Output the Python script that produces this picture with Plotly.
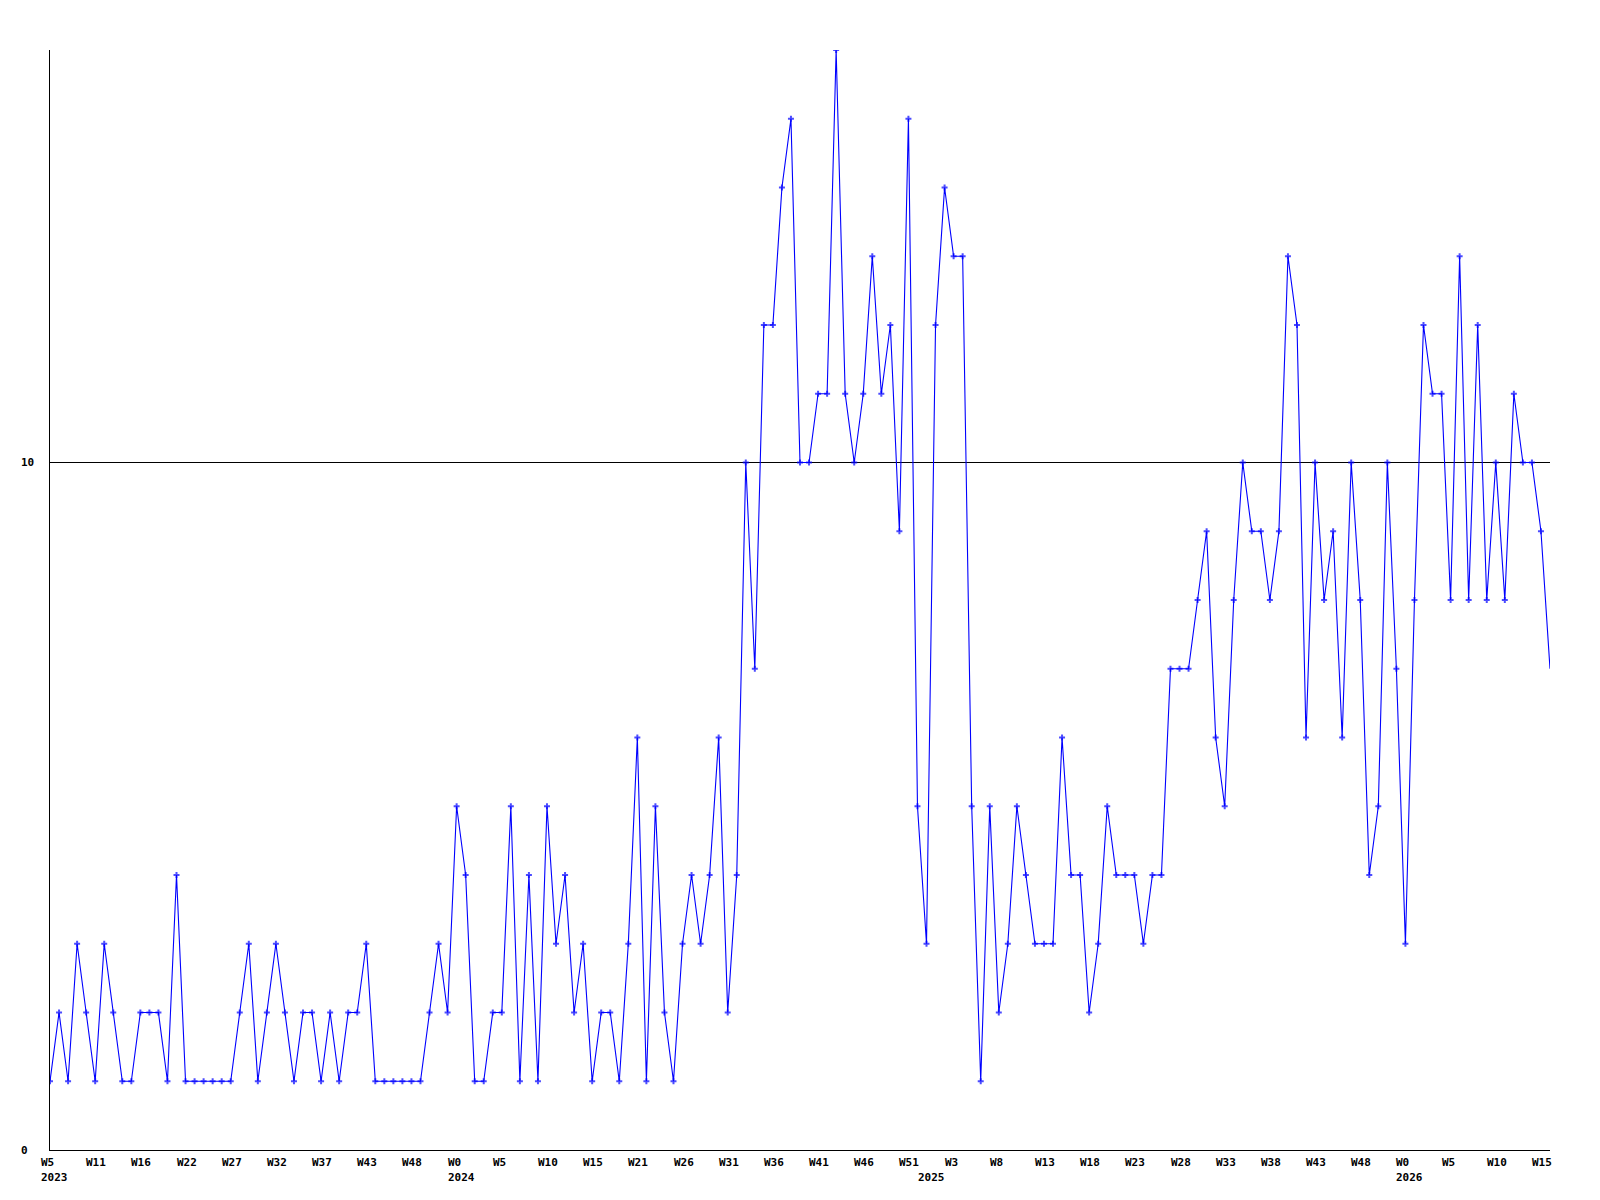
import plotly.graph_objects as go

# Weekly values (one per week)
values = [
    1, 2, 1, 3, 2, 1, 3, 2, 1, 1, 2, 2, 2, 1, 4, 1, 1, 1, 1, 1,
    1, 2, 3, 1, 2, 3, 2, 1, 2, 2, 1, 2, 1, 2, 2, 3, 1, 1, 1, 1,
    1, 1, 2, 3, 2, 5, 4, 1, 1, 2, 2, 5, 1, 4, 1, 5, 3, 4, 2, 3,
    1, 2, 2, 1, 3, 6, 1, 5, 2, 1, 3, 4, 3, 4, 6, 2, 4, 10, 7, 12,
    12, 14, 15, 10, 10, 11, 11, 16, 11, 10, 11, 13, 11, 12, 9, 15, 5, 3, 12, 14,
    13, 13, 5, 1, 5, 2, 3, 5, 4, 3, 3, 3, 6, 4, 4, 2, 3, 5, 4, 4,
    4, 3, 4, 4, 7, 7, 7, 8, 9, 6, 5, 8, 10, 9, 9, 8, 9, 13, 12, 6,
    10, 8, 9, 6, 10, 8, 4, 5, 10, 7, 3, 8, 12, 11, 11, 8, 13, 8, 12, 8,
    10, 8, 11, 10, 10, 9, 7,
]

# X tick labels: every 5th point
week_labels = [
    "W5", "W11", "W16", "W22", "W27", "W32", "W37", "W43", "W48",
    "W0", "W5", "W10", "W15", "W21", "W26", "W31", "W36", "W41", "W46", "W51",
    "W3", "W8", "W13", "W18", "W23", "W28", "W33", "W38", "W43", "W48",
    "W0", "W5", "W10", "W15",
]
week_label_step = 5

# Year labels and the point index where each appears
year_labels = ["2023", "2024", "2025", "2026"]
year_positions = [0, 45, 97, 150]

# Y tick values
y_ticks = [0, 10]

n = len(values)
x = list(range(n))

fig = go.Figure()
fig.add_trace(go.Scatter(
    x=x, y=values, mode="lines+markers",
    line=dict(color="#0000ff", width=1.1),
    marker=dict(symbol="cross", size=[5] * (n - 1) + [0], color="#0000ff",
                line=dict(width=0)),
    hoverinfo="x+y",
    showlegend=False,
))

font = dict(family="DejaVu Sans Mono", size=11, color="#000000", weight="bold")

annotations = []
for k, lab in enumerate(week_labels):
    annotations.append(dict(
        x=k * week_label_step, xref="x", y=0, yref="paper",
        text=lab, showarrow=False, xanchor="left", yanchor="middle",
        xshift=-11, yshift=-12, font=font,
    ))
for lab, pos in zip(year_labels, year_positions):
    annotations.append(dict(
        x=pos, xref="x", y=0, yref="paper",
        text=lab, showarrow=False, xanchor="left", yanchor="middle",
        xshift=-11, yshift=-27, font=font,
    ))
for v in y_ticks:
    annotations.append(dict(
        x=0, xref="paper", y=v, yref="y",
        text=str(v), showarrow=False, xanchor="left", yanchor="middle",
        xshift=-31, yshift=0, font=font,
    ))

fig.update_layout(
    width=1584, height=1184,
    margin=dict(l=42, r=42, t=42, b=42, pad=0),
    paper_bgcolor="#ffffff", plot_bgcolor="#ffffff",
    annotations=annotations,
    xaxis=dict(range=[0, n - 1], showgrid=False, zeroline=False,
               showticklabels=False, ticks="", showline=True,
               linecolor="#000000", linewidth=1, fixedrange=True),
    yaxis=dict(range=[0, 16], tickvals=y_ticks, showgrid=True,
               gridcolor="#000000", gridwidth=1, zeroline=False,
               showticklabels=False, ticks="", showline=True,
               linecolor="#000000", linewidth=1, fixedrange=True),
)

fig.write_html("out.html")
